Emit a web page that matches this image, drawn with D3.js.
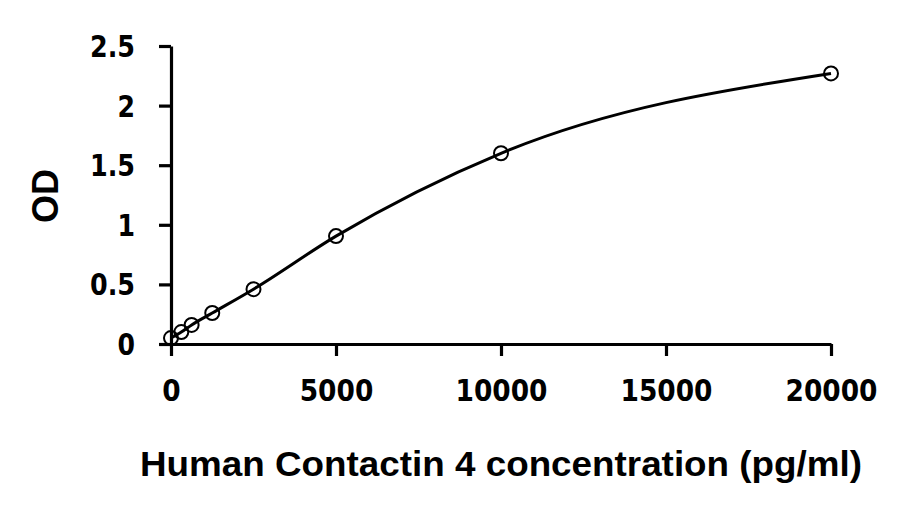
<!DOCTYPE html>
<html><head><meta charset="utf-8">
<script src="https://cdn.jsdelivr.net/npm/d3@7"></script>
<style>body{margin:0;background:#fff}</style>
</head><body><svg id="c" width="920" height="517"></svg>
<script>
const conc = [0, 312.5, 625, 1250, 2500, 5000, 10000, 20000];
const od = [0.05, 0.10, 0.16, 0.26, 0.46, 0.905, 1.60, 2.27];
const xTicks = [0, 5000, 10000, 15000, 20000];
const yTicks = [0, 0.5, 1, 1.5, 2, 2.5];
const xTitle = "Human Contactin 4 concentration (pg/ml)";
const yTitle = "OD";

const svg = d3.select("#c");
const x = d3.scaleLinear().domain([0, 20000]).range([171, 831]);
const y = d3.scaleLinear().domain([0, 2.5]).range([344, 46]);
const numFont = "'DejaVu Sans Condensed','DejaVu Sans',sans-serif";

const xAxis = svg.append("g").attr("transform", "translate(0,344)")
  .call(d3.axisBottom(x).tickValues(xTicks).tickSize(12).tickSizeOuter(0).tickPadding(24).tickFormat(d3.format("d")));
const yAxis = svg.append("g").attr("transform", "translate(171,0)")
  .call(d3.axisLeft(y).tickValues(yTicks).tickSize(12).tickSizeOuter(0).tickPadding(24).tickFormat(d => String(d)));
[xAxis, yAxis].forEach(g => {
  g.select(".domain").attr("stroke", "#000").style("stroke-width", "3.2px");
  g.selectAll(".tick line").attr("stroke", "#000").style("stroke-width", "3.2px");
  g.selectAll(".tick text").attr("fill", "#000").style("font-family", numFont)
   .style("font-weight", "bold").style("font-size", "30px");
});
yAxis.selectAll(".tick text").attr("dy", "0.35em");
xAxis.selectAll(".tick text").attr("dy", "0.71em");
xAxis.selectAll(".tick text").each(function () {
  const n = this.textContent.length;
  d3.select(this).attr("textLength", n * 18.4).attr("lengthAdjust", "spacingAndGlyphs");
});
yAxis.selectAll(".tick text").each(function () {
  const t = this.textContent;
  const w = t.length === 1 ? 17.5 : 45;
  d3.select(this).attr("textLength", w).attr("lengthAdjust", "spacingAndGlyphs");
});

const pts = conc.map((c, i) => [x(c), y(od[i])]);
svg.append("path").attr("d", d3.line().curve(d3.curveMonotoneX)(pts))
  .attr("fill", "none").attr("stroke", "#000").style("stroke-width", "3px");
svg.selectAll("circle.pt").data(pts).join("circle").attr("class", "pt")
  .attr("cx", d => d[0]).attr("cy", d => d[1]).attr("r", 7)
  .attr("fill", "none").attr("stroke", "#000").style("stroke-width", "2px");

svg.append("text").attr("x", 501).attr("y", 476).attr("text-anchor", "middle")
  .attr("textLength", 722).attr("lengthAdjust", "spacingAndGlyphs")
  .style("font-family", "'Liberation Sans',Arial,sans-serif").style("font-weight", "bold")
  .style("font-size", "35px").text(xTitle);
svg.append("text").attr("transform", "translate(58,196) rotate(-90)").attr("text-anchor", "middle")
  .style("font-family", "'Liberation Sans',Arial,sans-serif").style("font-weight", "bold")
  .style("font-size", "36px").text(yTitle);
</script></body></html>
